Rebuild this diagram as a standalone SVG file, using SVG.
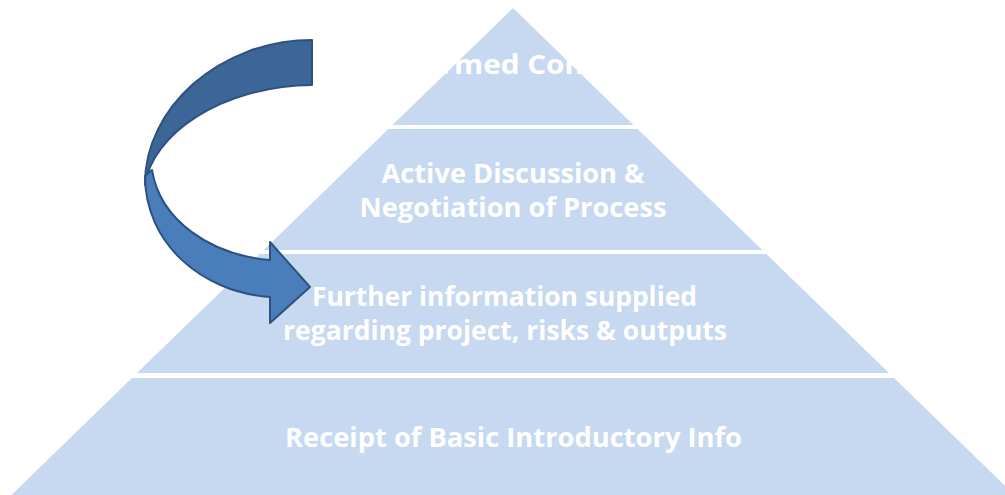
<svg xmlns="http://www.w3.org/2000/svg" width="1005" height="495" viewBox="0 0 1005 495">
  <style>
    .tier { fill: #c6d9f1; }
    .lbl { fill: #ffffff; font-family: "Open Sans", "Noto Sans", sans-serif; font-weight: 700; font-size: 26px; text-anchor: middle; }
    .arrow-back { fill: #3c6698; stroke: #2e527f; stroke-width: 2; stroke-linejoin: round; }
    .arrow-front { fill: #4a7ebb; stroke: #2e527f; stroke-width: 2; stroke-linejoin: round; }
  </style>
  <rect width="1005" height="495" fill="#ffffff"/>
  <g id="tier-informed-consent">
    <polygon class="tier" points="513,8 633.5,125 392.5,125"/>
    <text class="lbl" x="515" y="74" textLength="267" lengthAdjust="spacingAndGlyphs">Informed Consent</text>
  </g>
  <g id="tier-active-discussion">
    <polygon class="tier" points="388.4,129 637.6,129 762.3,250 263.7,250"/>
    <text class="lbl" x="513" y="183" textLength="263" lengthAdjust="spacingAndGlyphs">Active Discussion &amp;</text>
    <text class="lbl" x="513" y="217" textLength="307" lengthAdjust="spacingAndGlyphs">Negotiation of Process</text>
  </g>
  <g id="tier-further-information">
    <polygon class="tier" points="259.6,254 766.4,254 889,373 137,373"/>
    <text class="lbl" x="504.5" y="306" textLength="385" lengthAdjust="spacingAndGlyphs">Further information supplied</text>
    <text class="lbl" x="505" y="340" textLength="444" lengthAdjust="spacingAndGlyphs">regarding project, risks &amp; outputs</text>
  </g>
  <g id="tier-basic-info">
    <polygon class="tier" points="131.9,378 894.1,378 1014.6,495 11.4,495"/>
    <text class="lbl" x="513.5" y="447" textLength="457" lengthAdjust="spacingAndGlyphs">Receipt of Basic Introductory Info</text>
  </g>
  <g id="connectors">
    <path class="arrow-back" d="M312,40 C220,40 144,108 145,185 C152,135 220,86 312,85 Z"/>
    <path class="arrow-front" d="M145,176 C145,242 200,292 270,297 L270,323 L310,287 L270,242 L270,260 C210,255 160,220 152,170 Z"/>
  </g>
</svg>
